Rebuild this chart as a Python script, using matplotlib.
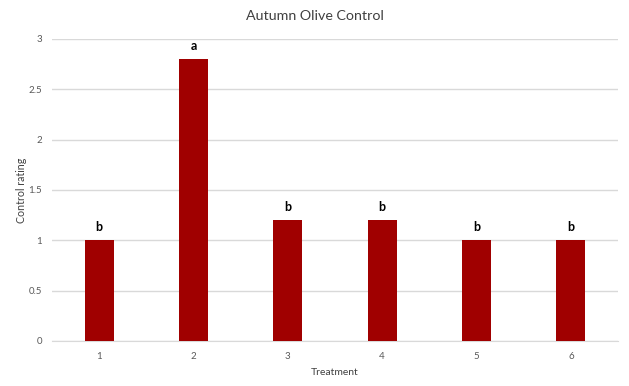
import numpy as np
from matplotlib import pyplot as plt

plt.rcParams['font.family'] = ['Lato', 'DejaVu Sans']

treatments = ['1', '2', '3', '4', '5', '6']
ratings = [1.0, 2.8, 1.2, 1.2, 1.0, 1.0]
letters = ['b', 'a', 'b', 'b', 'b', 'b']
yticks = [0, 0.5, 1, 1.5, 2, 2.5, 3]
ytick_labels = ['0', '0.5', '1', '1.5', '2', '2.5', '3']

fig = plt.figure(figsize=(6.29, 3.86), dpi=100)
ax = fig.add_axes([0.0827, 0.1166, 0.8998, 0.7824])

x = np.arange(len(treatments))
ax.bar(x, ratings, width=0.31, color='#A00000', zorder=3)
for xi, r, lab in zip(x, ratings, letters):
    ax.text(xi, r + 0.07, lab, ha='center', va='bottom', fontsize=9,
            fontweight='bold', color='black')

ax.set_xlim(-0.5, len(treatments) - 0.5)
ax.set_ylim(0, 3)
ax.set_yticks(yticks)
ax.set_yticklabels(ytick_labels)
ax.set_xticks(x)
ax.set_xticklabels(treatments)
ax.yaxis.grid(True, color='#D9D9D9', linewidth=1, zorder=0)
for s in ['top', 'right', 'left']:
    ax.spines[s].set_visible(False)
ax.spines['bottom'].set_color('#D9D9D9')
ax.tick_params(axis='both', length=0, labelsize=7, colors='#595959')
ax.tick_params(axis='x', pad=8)
ax.tick_params(axis='y', pad=7)

fig.text(0.5, 0.958, 'Autumn Olive Control', ha='center', va='center',
         fontsize=10.3, color='#404040')
ax.set_xlabel('Treatment', fontsize=7.5, color='#404040', labelpad=5)
ax.set_ylabel('Control rating', fontsize=7.7, color='#404040', labelpad=1)

plt.savefig('out.png', dpi=100)
